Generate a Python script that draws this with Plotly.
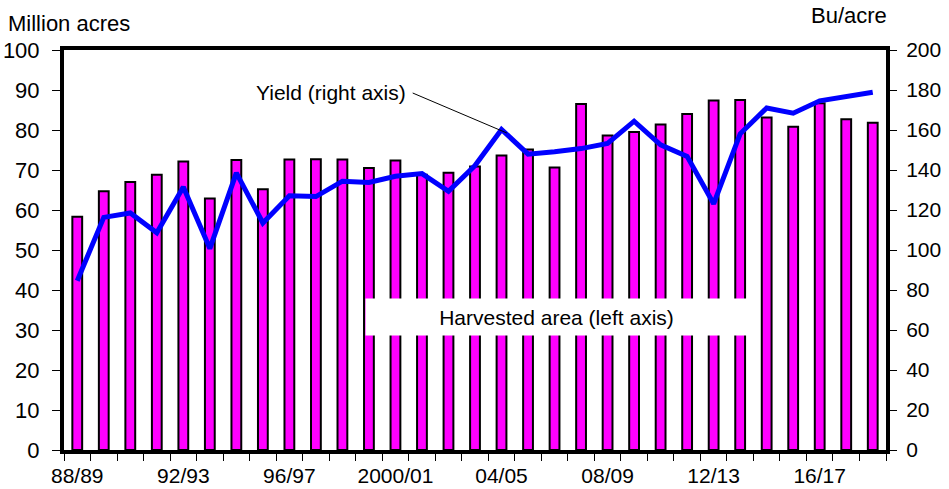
import plotly.graph_objects as go

# US corn: harvested area (million acres) and yield (bu/acre), 1988/89 - 2018/19
seasons = ["88/89", "89/90", "90/91", "91/92", "92/93", "93/94", "94/95", "95/96",
           "96/97", "97/98", "98/99", "99/2000", "2000/01", "01/02", "02/03", "03/04",
           "04/05", "05/06", "06/07", "07/08", "08/09", "09/10", "10/11", "11/12",
           "12/13", "13/14", "14/15", "15/16", "16/17", "17/18", "18/19"]
harvested_area = [58.3, 64.7, 67.0, 68.8, 72.1, 62.9, 72.5, 65.2, 72.6, 72.7, 72.6,
                  70.5, 72.4, 68.8, 69.3, 70.9, 73.6, 75.1, 70.6, 86.5, 78.6, 79.5,
                  81.4, 84.0, 87.4, 87.5, 83.1, 80.8, 86.7, 82.7, 81.8]
yield_bu = [84.6, 116.3, 118.5, 108.6, 131.5, 100.7, 138.6, 113.5, 127.1, 126.7, 134.4,
            133.8, 136.9, 138.2, 129.3, 142.2, 160.3, 147.9, 149.1, 150.7, 153.3, 164.4,
            152.6, 146.8, 123.1, 158.1, 171.0, 168.4, 174.6, 176.6, 178.9]
label_every = 4

x_idx = list(range(len(seasons)))
tick_pos = x_idx[::label_every]
tick_txt = seasons[::label_every]

FONT = "Arial, Liberation Sans, sans-serif"
TICK_SIZE = 22

fig = go.Figure()
fig.add_trace(go.Bar(
    x=x_idx, y=harvested_area, width=0.37,
    marker=dict(color="#FF00FF", line=dict(color="black", width=2)),
    yaxis="y", name="Harvested area",
))
fig.add_trace(go.Scatter(
    x=x_idx, y=yield_bu, mode="lines",
    line=dict(color="#0000FF", width=5),
    yaxis="y2", name="Yield",
))

fig.update_layout(
    width=949, height=489,
    margin=dict(l=64, r=63, t=50, b=39),
    paper_bgcolor="white", plot_bgcolor="white",
    showlegend=False,
    font=dict(family=FONT, color="black", size=TICK_SIZE),
    xaxis=dict(
        range=[-0.5, len(seasons) - 0.5], automargin=False,
        tickvals=tick_pos, ticktext=tick_txt, ticks="",
        tickfont=dict(size=21), ticklabelstandoff=4,
        showline=True, linecolor="black", linewidth=4, mirror=True,
        showgrid=False, zeroline=False,
        minor=dict(ticks="outside", tick0=-0.5, dtick=1, ticklen=7,
                   tickwidth=1, tickcolor="black", showgrid=False),
    ),
    yaxis=dict(
        range=[0, 100], dtick=10, ticks="outside", ticklen=8, tickwidth=1,
        tickcolor="black", showline=True, linecolor="black", linewidth=4,
        mirror=True, showgrid=False, zeroline=False, tickfont=dict(size=TICK_SIZE),
        ticklabelstandoff=8, automargin=False,
    ),
    yaxis2=dict(
        range=[0, 200], dtick=20, overlaying="y", side="right",
        ticks="outside", ticklen=7, tickwidth=1, tickcolor="black",
        showline=True, linecolor="black", linewidth=4,
        showgrid=False, zeroline=False, tickfont=dict(size=21),
        ticklabelstandoff=5, automargin=False,
    ),
)

# axis unit labels
fig.add_annotation(text="Million acres", xref="paper", yref="paper",
                   x=-0.0705, y=1.0665, xanchor="left", yanchor="middle",
                   showarrow=False, font=dict(size=TICK_SIZE))
fig.add_annotation(text="Bu/acre", xref="paper", yref="paper",
                   x=1.004, y=1.0865, xanchor="right", yanchor="middle",
                   showarrow=False, font=dict(size=TICK_SIZE))

# series labels
fig.add_annotation(text="Yield (right axis)", x=12.46, y=179, xref="x", yref="y2",
                   xanchor="right", yanchor="middle", showarrow=False,
                   font=dict(size=21))
fig.add_shape(type="line", xref="x", yref="y2", x0=12.65, y0=178.5, x1=16.2, y1=158.5,
              line=dict(color="black", width=1))
fig.add_annotation(text="Harvested area (left axis)", x=18.09, y=33.25, xref="x",
                   yref="y", xanchor="center", yanchor="middle", showarrow=False,
                   bgcolor="white", width=381, height=36, borderpad=0,
                   font=dict(size=21))

fig.write_html("out.html")
